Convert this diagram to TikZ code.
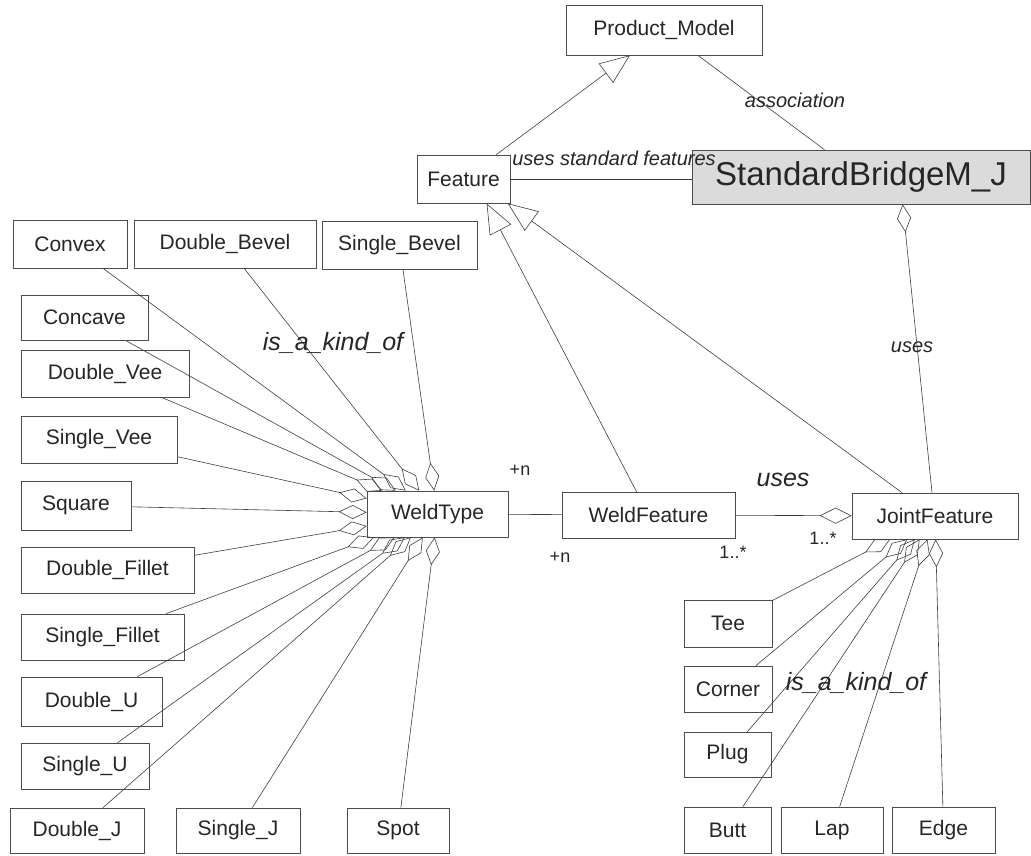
\documentclass[tikz,border=0pt]{standalone}
\usepackage{fontspec}
\setmainfont{Liberation Sans}
\usetikzlibrary{arrows.meta,calc}
\newcommand{\mkbox}[7][]{%
  \pgfmathsetmacro{\bcx}{(#3+#5)/2}\pgfmathsetmacro{\bcy}{(#4+#6)/2}%
  \pgfmathsetmacro{\bw}{#5-#3}\pgfmathsetmacro{\bh}{#6-#4}%
  \node[box,#1,minimum width=\bw pt,minimum height=\bh pt] (#2) at (\bcx,\bcy) {#7};}
\begin{document}
\begin{tikzpicture}[x=1pt,y=-1pt,
  box/.style={draw=black!70, line width=0.7pt, inner sep=0pt, fill=white, text=black!85,
    font=\fontsize{21}{24}\selectfont},
  lbl/.style={text=black!85, inner sep=0pt, font=\fontsize{20}{24}\selectfont\itshape},
  lblbig/.style={text=black!85, inner sep=0pt, font=\fontsize{25}{28}\selectfont\itshape},
  mult/.style={text=black!85, inner sep=0pt, font=\fontsize{18}{20}\selectfont},
  conn/.style={draw=black!75, line width=0.6pt},
  agg/.style={conn, -{Diamond[open,length=28pt,width=14pt]}},
  gen/.style={conn, -{Triangle[open,length=30pt,width=24pt]}}]
\fill[white] (0,0) rectangle (1031,855);
\useasboundingbox (0,0) rectangle (1031,855);
% top
\mkbox{PM}{566}{5}{762}{55}{Product\_Model}
\mkbox{Feature}{417}{155}{510}{203}{Feature}
\mkbox[fill=black!14,font=\fontsize{33}{36}\selectfont]{SB}{692}{150}{1030}{204}{StandardBridgeM\_J}
% weld types
\mkbox{Convex}{13}{220}{127}{268}{Convex}
\mkbox{DoubleBevel}{134}{220}{316}{268}{Double\_Bevel}
\mkbox{SingleBevel}{322}{221}{477}{269}{Single\_Bevel}
\mkbox{Concave}{21}{295}{148}{340}{Concave}
\mkbox{DoubleVee}{21}{350}{189}{397}{Double\_Vee}
\mkbox{SingleVee}{21}{416}{177}{463}{Single\_Vee}
\mkbox{Square}{21}{481}{131}{530}{Square}
\mkbox{DoubleFillet}{21}{547}{194}{593}{Double\_Fillet}
\mkbox{SingleFillet}{21}{614}{184}{660}{Single\_Fillet}
\mkbox{DoubleU}{21}{677}{162}{726}{Double\_U}
\mkbox{SingleU}{21}{743}{149}{789}{Single\_U}
\mkbox{DoubleJ}{10}{808}{144}{853}{Double\_J}
\mkbox{SingleJ}{176}{808}{300}{853}{Single\_J}
\mkbox{Spot}{347}{808}{449}{853}{Spot}
% middle
\mkbox{WeldType}{367}{491}{508}{537}{WeldType}
\mkbox{WeldFeature}{562}{492}{735}{538}{WeldFeature}
\mkbox{JointFeature}{852}{493}{1018}{539}{JointFeature}
% joint types
\mkbox{Tee}{684}{600}{772}{647}{Tee}
\mkbox{Corner}{684}{666}{772}{712}{Corner}
\mkbox{Plug}{684}{732}{771}{777}{Plug}
\mkbox{Butt}{684}{807}{771}{853}{Butt}
\mkbox{Lap}{781}{807}{883}{853}{Lap}
\mkbox{Edge}{892}{807}{995}{853}{Edge}
% connectors
\draw[gen] (Feature) -- (PM);
\draw[conn] (PM) -- (SB);
\draw[conn] (Feature.east) -- (Feature.east -| SB.west);
\draw[gen] ($(WeldFeature.north)+(-12,0)$) -- ($(Feature.south west)+(70,0)$);
\draw[gen] ($(JointFeature.north)+(-33,0)$) -- ($(Feature.south west)+(91,0)$);
\draw[agg] ($(JointFeature.north)+(-3,0)$) -- ($(SB.south west)+(211,0)$);
\draw[conn] (WeldType) -- (WeldFeature);
\draw[agg,-{Diamond[open,length=32pt,width=16pt]}] (WeldFeature) -- (JointFeature);
\foreach \n in {Convex,DoubleBevel,SingleBevel,Concave,DoubleVee,SingleVee,Square,
  DoubleFillet,SingleFillet,DoubleU,SingleU,DoubleJ,SingleJ,Spot}
  \draw[agg] (\n) -- (WeldType);
\foreach \n in {Tee,Corner,Plug,Butt,Lap,Edge}
  \draw[agg] (\n) -- (JointFeature);
% labels
\node[lbl] (lassoc) at (795,100) {association};
\node[lbl] (lstd) at (614,158) {uses standard features};
\node[lbl] (lusesSB) at (912,347) {uses};
\node[lblbig] (lkind1) at (333,343) {is\_a\_kind\_of};
\node[lblbig] (lkind2) at (856,683) {is\_a\_kind\_of};
\node[lblbig] (luses) at (783,480) {uses};
\node[mult] (n1) at (520,470) {+n};
\node[mult] (n2) at (560,557) {+n};
\node[mult] (m1) at (733,552) {1..*};
\node[mult] (m2) at (823,538) {1..*};
\end{tikzpicture}
\end{document}
